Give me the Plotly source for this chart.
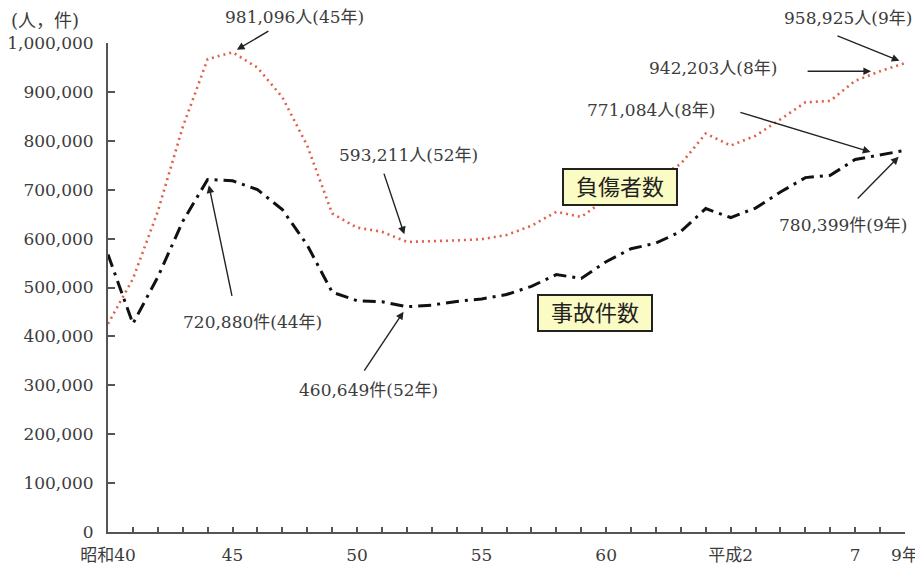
import plotly.graph_objects as go

# 昭和40年(1965) ～ 平成9年(1997)
years = list(range(1965, 1998))
accidents = [567286, 425944, 521481, 635056, 720880, 718080, 700290, 659283, 586713, 490452,
             472938, 471041, 460649, 464037, 471573, 476677, 485578, 502261, 526362, 518642,
             552788, 579190, 590723, 614481, 661363, 643097, 662392, 695346, 724675, 729461,
             761794, 771084, 780399]
injured = [425666, 517775, 655377, 828071, 967000, 981096, 949689, 889198, 789948, 651420,
           622467, 613957, 593211, 594116, 596282, 598719, 607346, 626192, 654822, 644321,
           681346, 712330, 722179, 752845, 814832, 790295, 810245, 844003, 878633, 881723,
           922677, 942203, 958925]
tick_years = [1965, 1970, 1975, 1980, 1985, 1990, 1995, 1997]
tick_names = ["昭和40", "45", "50", "55", "60", "平成2", "7", "9年"]
y_ticks = list(range(0, 1000001, 100000))
Y_MAX = 1000000

FONT = "DejaVu Serif, Noto Sans CJK JP, serif"
TXT = "#3c3c3c"

fig = go.Figure()
fig.add_trace(go.Scatter(x=years, y=injured, mode="lines", name="負傷者数",
                         line=dict(color="#e0604c", width=2.6, dash="2px,4px")))
fig.add_trace(go.Scatter(x=years, y=accidents, mode="lines", name="事故件数",
                         line=dict(color="#111111", width=3, dash="13px,6px,3px,6px")))

ticktext = [tick_names[tick_years.index(y)] if y in tick_years else "" for y in years]

# the page body has an 8px margin, so the figure is a bit smaller than the window
fig.update_layout(
    width=915, height=561,
    margin=dict(l=100, r=18, t=35, b=37),
    paper_bgcolor="white", plot_bgcolor="white",
    showlegend=False,
    font=dict(family=FONT, size=17, color=TXT),
    xaxis=dict(range=[1965, 1997], tickvals=years, ticktext=ticktext,
               ticks="inside", ticklen=5, tickcolor="#555", tickwidth=1.5,
               showline=True, linecolor="#555", linewidth=1.8, showgrid=False,
               zeroline=False, automargin=False, ticklabelstandoff=7,
               tickfont=dict(size=17, color=TXT)),
    yaxis=dict(range=[0, Y_MAX], tickvals=y_ticks,
               ticktext=[f"{v:,}" for v in y_ticks],
               ticks="inside", ticklen=7, tickcolor="#555", tickwidth=1.5,
               showline=True, linecolor="#555", linewidth=1.8, showgrid=False,
               zeroline=False, automargin=False, ticklabelstandoff=9,
               tickfont=dict(size=17, color=TXT)),
)

# unit label
fig.add_annotation(xref="paper", yref="paper", x=-0.079, y=1.047, text="(人，件)",
                   xanchor="center", yanchor="middle",
                   showarrow=False, font=dict(size=18, color=TXT))

# callouts: (text, text_x, text_y, tail_x, tail_y, point_x, point_y, standoff)
i45 = years.index(1970)
a44 = years.index(1969)
i52 = years.index(1977)
i8 = years.index(1996)
i9 = years.index(1997)
callouts = [
    ("981,096人(45年)", 1972.48, 1053000, 1971.5, 1026000, years[i45], injured[i45], 5),
    ("720,880件(44年)", 1970.79, 429000, 1969.99, 480000, years[a44], accidents[a44], 6),
    ("593,211人(52年)", 1977.06, 771000, 1976.06, 736000, years[i52], injured[i52], 8),
    ("460,649件(52年)", 1975.45, 290000, 1975.25, 327000, years[i52], accidents[i52], 6),
    ("958,925人(9年)", 1994.7, 1051000, 1994.23, 1016000, years[i9], injured[i9], 6),
    ("942,203人(8年)", 1989.29, 949000, 1993.03, 942203, years[i8], injured[i8], 9),
    ("771,084人(8年)", 1986.79, 863000, 1990.33, 859000, years[i8], accidents[i8], 10),
    ("780,399件(9年)", 1994.51, 628000, 1995.04, 679000, years[i9], accidents[i9], 9),
]
for text, tx, ty, ax, ay, px, py, so in callouts:
    fig.add_annotation(x=tx, y=ty / Y_MAX, yref="paper", text=text, showarrow=False,
                       xanchor="center", yanchor="middle",
                       font=dict(size=17, color=TXT))
    fig.add_annotation(x=px, y=py, ax=ax, ay=ay, axref="x", ayref="y", text="",
                       showarrow=True, arrowhead=2, arrowsize=1.1, arrowwidth=1.4,
                       arrowcolor="#222", standoff=so)

# series labels
for text, bx, by in [("負傷者数", 1985.57, 705500), ("事故件数", 1984.54, 447800)]:
    fig.add_annotation(x=bx, y=by, text=text, showarrow=False,
                       font=dict(size=22, color="#222"),
                       bgcolor="#fbfbc4", bordercolor="#222", borderwidth=2,
                       borderpad=3, width=106, height=28)

fig.write_html("out.html")
